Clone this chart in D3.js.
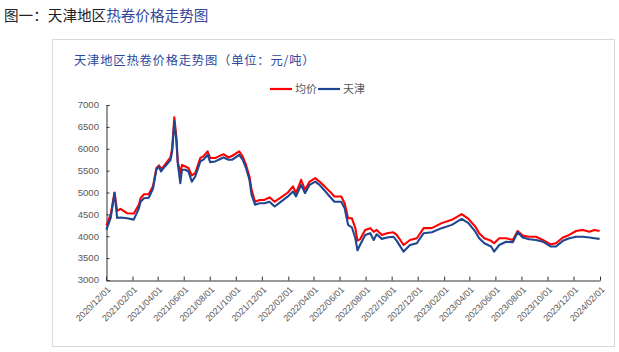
<!DOCTYPE html>
<html>
<head>
<meta charset="utf-8">
<script src="https://cdn.jsdelivr.net/npm/d3@7"></script>
<style>
  body { margin: 0; background: #fff; }
  svg { display: block; }
</style>
</head>
<body>
<div id="chart-area"></div>
<script>
const W = 619, H = 352
const MARGIN = { LEFT: 106, RIGHT: 19, TOP: 105, BOTTOM: 72 }

// data
const dates = [
  "2020-12-02","2020-12-12","2020-12-21","2020-12-27","2021-01-04","2021-01-20","2021-02-04","2021-02-16",
  "2021-02-20","2021-02-28","2021-03-11","2021-03-21","2021-03-29","2021-04-04","2021-04-09","2021-04-15",
  "2021-04-27","2021-05-01","2021-05-05","2021-05-10","2021-05-15","2021-05-18","2021-05-24","2021-05-28",
  "2021-06-05","2021-06-12","2021-06-20","2021-06-28","2021-07-10","2021-07-17","2021-07-27","2021-08-02",
  "2021-08-14","2021-08-22","2021-09-02","2021-09-14","2021-09-23","2021-10-09","2021-10-17","2021-10-25",
  "2021-11-02","2021-11-07","2021-11-15","2021-11-26","2021-12-07","2021-12-19","2021-12-31","2022-01-15",
  "2022-01-31","2022-02-12","2022-02-19","2022-03-03","2022-03-12","2022-03-23","2022-04-05","2022-04-15",
  "2022-04-27","2022-05-09","2022-05-20","2022-06-05","2022-06-13","2022-06-21","2022-06-30","2022-07-08",
  "2022-07-13","2022-07-19","2022-07-31","2022-08-12","2022-08-20","2022-08-27","2022-09-08","2022-09-20",
  "2022-10-05","2022-10-13","2022-10-29","2022-11-13","2022-11-29","2022-12-15","2023-01-03","2023-01-26",
  "2023-02-19","2023-03-14","2023-03-30","2023-04-15","2023-04-24","2023-05-06","2023-05-22","2023-05-29",
  "2023-06-10","2023-06-26","2023-07-12","2023-07-23","2023-08-04","2023-08-19","2023-09-04","2023-09-20",
  "2023-10-09","2023-10-21","2023-11-06","2023-11-21","2023-12-07","2023-12-23","2024-01-07","2024-01-19",
  "2024-01-31"
]
const avgPrice = [
  4250,4500,5000,4580,4625,4525,4520,4720,4870,4960,4960,5140,5560,5620,5540,5595,
  5750,5800,6015,6720,6245,5710,5445,5630,5595,5560,5390,5445,5790,5825,5940,5790,
  5790,5825,5875,5800,5840,5940,5825,5630,5365,5060,4790,4830,4830,4890,4790,4890,
  5000,5140,4985,5290,5060,5250,5330,5250,5140,5025,4910,4910,4755,4410,4410,4185,
  3900,3930,4145,4185,4100,4145,4030,4070,4090,4030,3800,3915,3955,4185,4185,4300,
  4375,4505,4395,4220,4070,3955,3895,3840,3955,3955,3915,4120,4015,3990,3990,3915,
  3815,3840,3970,4030,4120,4145,4105,4145,4120
]
const tianjin = [
  4150,4420,4990,4420,4430,4410,4380,4640,4790,4870,4880,5085,5520,5595,5480,5560,
  5695,5740,5940,6625,6165,5670,5215,5520,5520,5480,5250,5365,5710,5750,5860,5695,
  5710,5750,5800,5750,5750,5860,5750,5560,5290,4945,4720,4755,4755,4790,4680,4790,
  4910,5025,4910,5175,4985,5175,5250,5175,5045,4910,4790,4790,4640,4260,4200,3955,
  3680,3800,4030,4070,3915,4045,3940,3970,3990,3895,3650,3800,3840,4070,4090,4185,
  4260,4395,4300,4105,3955,3840,3765,3650,3800,3875,3865,4090,3970,3930,3915,3875,
  3765,3765,3895,3955,3990,3990,3970,3955,3940
]
const yTicks = [3000, 3500, 4000, 4500, 5000, 5500, 6000, 6500, 7000]
const xTickLabels = [
  "2020/12/01","2021/02/01","2021/04/01","2021/06/01","2021/08/01","2021/10/01","2021/12/01",
  "2022/02/01","2022/04/01","2022/06/01","2022/08/01","2022/10/01","2022/12/01",
  "2023/02/01","2023/04/01","2023/06/01","2023/08/01","2023/10/01","2023/12/01","2024/02/01"
]
const seriesNames = ["均价", "天津"]
const seriesColors = ["#ff0000", "#1f4690"]

const parse = d3.timeParse("%Y-%m-%d")
const parseTick = d3.timeParse("%Y/%m/%d")
const rows = dates.map((d, i) => ({ date: parse(d), avg: avgPrice[i], tj: tianjin[i] }))

const svg = d3.select("#chart-area").append("svg")
  .attr("width", W)
  .attr("height", H)

// page title above the chart box
const title = svg.append("text")
  .attr("x", 4)
  .attr("y", 21)
  .style("font-family", "'Noto Sans CJK SC', sans-serif")
  .style("font-size", "14.6px")
title.append("tspan").attr("fill", "#222").text("图一：天津地区")
title.append("tspan").attr("fill", "#34479a").text("热卷价格走势图")

// chart frame
svg.append("rect")
  .attr("x", 52.5).attr("y", 39.5)
  .attr("width", 562).attr("height", 307)
  .attr("fill", "none")
  .attr("stroke", "#d9d9d9")

svg.append("text")
  .attr("x", 74)
  .attr("y", 65)
  .attr("fill", "#2a4a9e")
  .style("font-family", "'Noto Sans CJK SC', sans-serif")
  .style("font-size", "12.3px")
  .style("letter-spacing", "0.8px")
  .text("天津地区热卷价格走势图（单位：元/吨）")

const x = d3.scaleTime()
  .domain([parseTick(xTickLabels[0]), parseTick(xTickLabels[xTickLabels.length - 1])])
  .range([MARGIN.LEFT, W - MARGIN.RIGHT])

const y = d3.scaleLinear()
  .domain([3000, 7000])
  .range([H - MARGIN.BOTTOM, MARGIN.TOP])

// y axis
const yAxis = svg.append("g")
  .attr("transform", `translate(${MARGIN.LEFT + 0.5},0)`)
  .call(d3.axisRight(y).tickValues(yTicks).tickSize(3).tickFormat(""))
yAxis.select(".domain").attr("stroke", "#333")
yAxis.selectAll(".tick line").attr("stroke", "#333")

svg.selectAll("ylabels")
  .data(yTicks)
  .join("text")
  .attr("x", 99)
  .attr("y", d => y(d))
  .attr("dy", "0.35em")
  .attr("text-anchor", "end")
  .attr("fill", "#595959")
  .style("font-family", "'Liberation Sans', Arial, sans-serif")
  .style("font-size", "9.6px")
  .text(d => d)

// x axis
const xAxis = svg.append("g")
  .attr("transform", `translate(0,${H - MARGIN.BOTTOM + 0.5})`)
  .call(d3.axisTop(x).tickValues(xTickLabels.map(parseTick)).tickSize(4).tickFormat("").tickSizeOuter(0))
xAxis.select(".domain").attr("stroke", "#333")
xAxis.selectAll(".tick line").attr("stroke", "#333")

svg.selectAll("xlabels")
  .data(xTickLabels)
  .join("text")
  .attr("transform", d => `translate(${x(parseTick(d)) + 3},${H - MARGIN.BOTTOM + 8}) rotate(-45)`)
  .attr("dy", "0.35em")
  .attr("text-anchor", "end")
  .attr("fill", "#595959")
  .style("font-family", "'Liberation Sans', Arial, sans-serif")
  .style("font-size", "9px")
  .text(d => d)

// lines: average first, Tianjin on top
const keys = ["avg", "tj"]
keys.forEach((k, i) => {
  svg.append("path")
    .datum(rows)
    .attr("fill", "none")
    .attr("stroke", seriesColors[i])
    .attr("stroke-width", 2.1)
    .attr("stroke-linejoin", "round")
    .attr("d", d3.line().x(d => x(d.date)).y(d => y(d[k])))
})

// legend
const legend = svg.append("g")
let lx = 270
seriesNames.forEach((name, i) => {
  legend.append("line")
    .attr("x1", lx).attr("x2", lx + 22)
    .attr("y1", 89).attr("y2", 89)
    .attr("stroke", seriesColors[i])
    .attr("stroke-width", 2.2)
  legend.append("text")
    .attr("x", lx + 25)
    .attr("y", 89)
    .attr("dy", "0.35em")
    .attr("fill", "#595959")
    .style("font-family", "'Noto Sans CJK SC', sans-serif")
    .style("font-size", "11px")
    .text(name)
  lx += 48
})
</script>
</body>
</html>
